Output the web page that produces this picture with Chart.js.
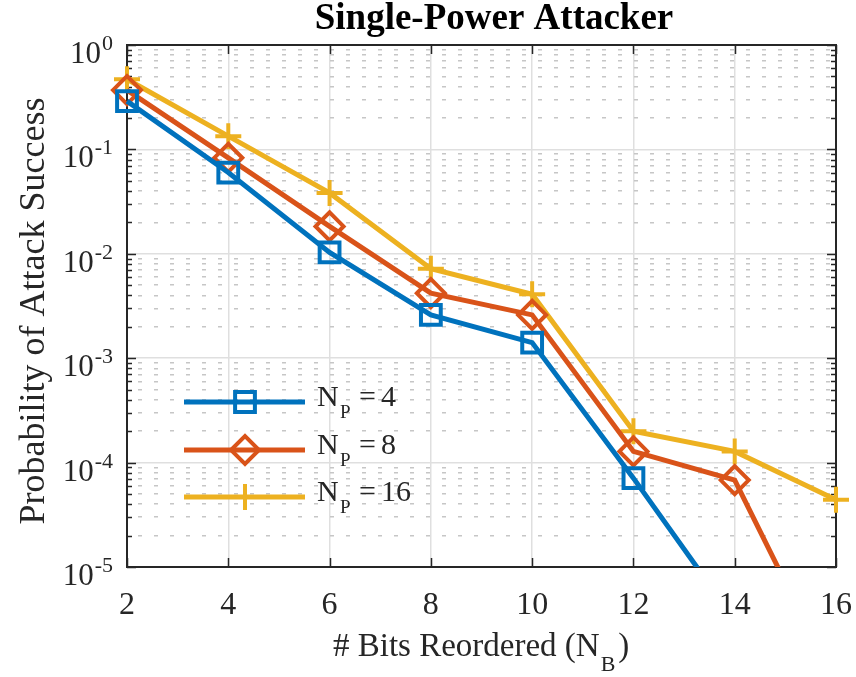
<!DOCTYPE html>
<html><head><meta charset="utf-8">
<script src="https://cdn.jsdelivr.net/npm/chart.js@4/dist/chart.umd.min.js"></script>
<style>html,body{margin:0;padding:0;background:#fff}canvas{display:block}</style>
</head><body>
<canvas id="c" width="856" height="677"></canvas>
<script>
// ---- data ----
const bitsReordered = [2, 4, 6, 8, 10, 12, 14, 16];
const np4  = [0.29, 0.060, 0.0103, 0.0026, 0.00141, 7.1e-5, 3.1e-6, null];
const np8  = [0.37, 0.083, 0.0183, 0.0042, 0.0026, 1.28e-4, 6.8e-5, 7.5e-7];
const np16 = [0.47, 0.134, 0.0383, 0.0072, 0.0041, 2.0e-4, 1.28e-4, 4.4e-5];
const seriesNP = ['4', '8', '16'];
const xTickValues = [2, 4, 6, 8, 10, 12, 14, 16];
const yExponents = [-5, -4, -3, -2, -1, 0];
const titleText = 'Single-Power Attacker';
const xLabelMain = '# Bits Reordered (N';
const xLabelSub = 'B';
const yLabelText = 'Probability of Attack Success';

const COLORS = ['#0072BD', '#D95319', '#EDB120'];
const STYLES = ['rect', 'rectRot', 'cross'];
const RADII = [14, 14, 13];
const SERIF = '"Liberation Serif", "Times New Roman", serif';
const AX = '#262626';

function isMajor(v) {
  const l = Math.log10(v);
  return Math.abs(l - Math.round(l)) < 1e-9;
}

const clipOpt = {left: false, right: false, top: false, bottom: 0};
const seriesData = [np4, np8, np16];
const datasets = seriesData.map((d, i) => ({
  label: 'N_P = ' + seriesNP[i],
  data: bitsReordered.map((x, j) => ({x: x, y: d[j]})),
  borderColor: COLORS[i],
  borderWidth: 5,
  pointStyle: STYLES[i],
  pointRadius: RADII[i],
  pointHoverRadius: RADII[i],
  pointBorderWidth: 4,
  pointBorderColor: COLORS[i],
  pointBackgroundColor: 'rgba(0,0,0,0)',
  tension: 0,
  spanGaps: false,
  clip: clipOpt
}));

const decor = {
  id: 'decor',
  beforeDatasetsDraw(chart) {
    const {ctx, chartArea: ca, scales: {x: xs, y: ys}} = chart;
    ctx.save();
    ctx.strokeStyle = AX;
    ctx.lineWidth = 1.5;
    ctx.beginPath();
    ys.ticks.forEach(t => {
      const y = Math.round(ys.getPixelForValue(t.value)) + 0.5;
      const L = isMajor(t.value) ? 9 : 5;
      ctx.moveTo(ca.left, y); ctx.lineTo(ca.left + L, y);
      ctx.moveTo(ca.right, y); ctx.lineTo(ca.right - L, y);
    });
    xs.ticks.forEach(t => {
      const x = Math.round(xs.getPixelForValue(t.value)) + 0.5;
      ctx.moveTo(x, ca.bottom); ctx.lineTo(x, ca.bottom - 9);
      ctx.moveTo(x, ca.top); ctx.lineTo(x, ca.top + 9);
    });
    ctx.stroke();
    ctx.lineWidth = 2;
    ctx.strokeRect(ca.left, ca.top, ca.right - ca.left, ca.bottom - ca.top);
    ctx.restore();
  },
  afterDatasetsDraw(chart) {
    // legend
    const {ctx} = chart;
    const ys = [402, 450, 497];
    ctx.save();
    chart.data.datasets.forEach((ds, i) => {
      const y = ys[i];
      ctx.strokeStyle = ds.borderColor;
      ctx.lineWidth = 5;
      ctx.beginPath(); ctx.moveTo(184, y); ctx.lineTo(305, y); ctx.stroke();
      ctx.fillStyle = 'rgba(0,0,0,0)';
      ctx.lineWidth = 4;
      Chart.helpers.drawPoint(ctx, {pointStyle: ds.pointStyle, radius: ds.pointRadius, borderWidth: 4, rotation: 0}, 245, y);
      ctx.fillStyle = AX;
      ctx.textAlign = 'left';
      ctx.textBaseline = 'alphabetic';
      ctx.font = '30px ' + SERIF;
      ctx.fillText('N', 317, y + 4);
      ctx.fillText('=', 359, y + 4);
      ctx.fillText(seriesNP[i], 381, y + 4);
      ctx.font = '19px ' + SERIF;
      ctx.fillText('P', 340, y + 16);
    });
    ctx.restore();
  },
  afterDraw(chart) {
    const {ctx, scales: {y: ys}} = chart;
    ctx.save();
    ctx.fillStyle = AX;
    // y tick labels 10^k
    ctx.textAlign = 'right';
    ctx.textBaseline = 'alphabetic';
    yExponents.forEach(e => {
      const y = ys.getPixelForValue(Math.pow(10, e));
      ctx.font = '22px ' + SERIF;
      const ex = String(e);
      const we = ctx.measureText(ex).width;
      ctx.fillText(ex, 113, y + 5);
      ctx.font = '31px ' + SERIF;
      ctx.fillText('10', 113 - we - 1, y + 18);
    });
    // title
    ctx.textAlign = 'center';
    ctx.font = 'bold 37px ' + SERIF;
    ctx.fillStyle = '#000';
    ctx.fillText(titleText, 494, 29);
    // x label
    ctx.fillStyle = AX;
    ctx.textAlign = 'left';
    ctx.font = '33px ' + SERIF;
    const x0 = 333;
    ctx.fillText(xLabelMain, x0, 656);
    const w = ctx.measureText(xLabelMain).width;
    ctx.font = '22px ' + SERIF;
    ctx.fillText(xLabelSub, x0 + w + 1, 671);
    const wb = ctx.measureText(xLabelSub).width;
    ctx.font = '33px ' + SERIF;
    ctx.fillText(')', x0 + w + wb + 4, 656);
    // y label
    ctx.translate(44, 311);
    ctx.rotate(-Math.PI / 2);
    ctx.textAlign = 'center';
    ctx.font = '36px ' + SERIF;
    ctx.fillText(yLabelText, 0, 0);
    ctx.restore();
  }
};

new Chart(document.getElementById('c'), {
  type: 'line',
  data: {datasets},
  options: {
    responsive: false,
    animation: false,
    devicePixelRatio: 1,
    layout: {padding: {top: 45, right: 20, bottom: 0, left: 0}},
    plugins: {legend: {display: false}, title: {display: false}, tooltip: {enabled: false}},
    events: [],
    scales: {
      x: {
        type: 'linear', min: 2, max: 16,
        afterBuildTicks(scale) { scale.ticks = xTickValues.map(v => ({value: v})); },
        afterFit(scale) { scale.height = 110; scale.paddingLeft = 0; scale.paddingRight = 0; },
        grid: {color: '#dfdfdf', lineWidth: 1.5, drawTicks: false},
        border: {display: false},
        ticks: {
          autoSkip: false, maxRotation: 0, padding: 19, color: AX,
          font: {family: SERIF, size: 32}
        }
      },
      y: {
        type: 'logarithmic', min: 1e-5, max: 1,
        afterBuildTicks(scale) {
          const t = [];
          yExponents.forEach(e => {
            if (e === 0) { t.push({value: 1}); return; }
            for (let m = 1; m <= 9; m++) t.push({value: m * Math.pow(10, e)});
          });
          scale.ticks = t;
        },
        afterFit(scale) { scale.width = 127; scale.paddingTop = 0; scale.paddingBottom = 0; },
        grid: {
          color: c => (c.tick && !isMajor(c.tick.value)) ? '#c6c6c6' : '#dfdfdf',
          lineWidth: 1.5,
          drawTicks: false
        },
        border: {
          display: false,
          dash: c => (c.tick && !isMajor(c.tick.value)) ? [4, 12] : [],
          dashOffset: 5
        },
        ticks: {display: false, autoSkip: false}
      }
    }
  },
  plugins: [decor]
});
</script>
</body></html>
